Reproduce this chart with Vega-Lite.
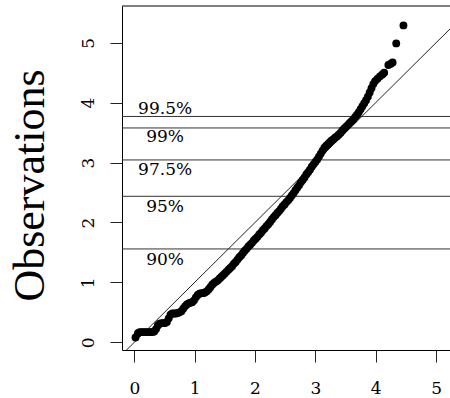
{
  "$schema": "https://vega.github.io/schema/vega-lite/v6.json",
  "autosize": {"type": "none"},
  "padding": {"left": 122, "top": 6, "right": 0, "bottom": 48},
  "width": 328,
  "height": 344,
  "background": "white",
  "config": {
    "view": {"stroke": null},
    "axis": {
      "grid": false,
      "domainColor": "black",
      "domainWidth": 1,
      "tickColor": "#222",
      "tickWidth": 1,
      "tickSize": 12,
      "labelFont": "DejaVu Serif",
      "labelFontSize": 17,
      "labelColor": "black"
    }
  },
  "datasets": {
    "pts": [
      {"q": 0.02, "obs": 0.08}, {"q": 0.06, "obs": 0.15}, {"q": 0.09, "obs": 0.17}, {"q": 0.12, "obs": 0.17},
      {"q": 0.15, "obs": 0.17}, {"q": 0.18, "obs": 0.17}, {"q": 0.21, "obs": 0.17}, {"q": 0.24, "obs": 0.17},
      {"q": 0.27, "obs": 0.17}, {"q": 0.30, "obs": 0.17}, {"q": 0.33, "obs": 0.18}, {"q": 0.36, "obs": 0.22},
      {"q": 0.39, "obs": 0.28}, {"q": 0.42, "obs": 0.31}, {"q": 0.45, "obs": 0.32}, {"q": 0.48, "obs": 0.32},
      {"q": 0.51, "obs": 0.32}, {"q": 0.54, "obs": 0.34}, {"q": 0.57, "obs": 0.40}, {"q": 0.60, "obs": 0.46},
      {"q": 0.63, "obs": 0.48}, {"q": 0.66, "obs": 0.48}, {"q": 0.69, "obs": 0.48}, {"q": 0.72, "obs": 0.49},
      {"q": 0.75, "obs": 0.50}, {"q": 0.78, "obs": 0.52}, {"q": 0.81, "obs": 0.56}, {"q": 0.84, "obs": 0.60},
      {"q": 0.87, "obs": 0.63}, {"q": 0.90, "obs": 0.65}, {"q": 0.93, "obs": 0.66}, {"q": 0.96, "obs": 0.67},
      {"q": 0.99, "obs": 0.70}, {"q": 1.02, "obs": 0.75}, {"q": 1.05, "obs": 0.79}, {"q": 1.08, "obs": 0.81},
      {"q": 1.11, "obs": 0.82}, {"q": 1.14, "obs": 0.82}, {"q": 1.17, "obs": 0.83}, {"q": 1.20, "obs": 0.85},
      {"q": 1.23, "obs": 0.88}, {"q": 1.26, "obs": 0.92}, {"q": 1.29, "obs": 0.96}, {"q": 1.32, "obs": 0.99},
      {"q": 1.35, "obs": 1.01}, {"q": 1.38, "obs": 1.03}, {"q": 1.41, "obs": 1.06}, {"q": 1.44, "obs": 1.09},
      {"q": 1.47, "obs": 1.12}, {"q": 1.50, "obs": 1.15}, {"q": 1.53, "obs": 1.18}, {"q": 1.56, "obs": 1.21},
      {"q": 1.59, "obs": 1.24}, {"q": 1.62, "obs": 1.27}, {"q": 1.65, "obs": 1.31}, {"q": 1.68, "obs": 1.34},
      {"q": 1.71, "obs": 1.38}, {"q": 1.74, "obs": 1.42}, {"q": 1.77, "obs": 1.45}, {"q": 1.80, "obs": 1.49},
      {"q": 1.83, "obs": 1.53}, {"q": 1.86, "obs": 1.56}, {"q": 1.89, "obs": 1.60}, {"q": 1.92, "obs": 1.63},
      {"q": 1.95, "obs": 1.66}, {"q": 1.98, "obs": 1.70}, {"q": 2.01, "obs": 1.73}, {"q": 2.04, "obs": 1.76},
      {"q": 2.07, "obs": 1.80}, {"q": 2.10, "obs": 1.83}, {"q": 2.13, "obs": 1.87}, {"q": 2.16, "obs": 1.90},
      {"q": 2.19, "obs": 1.94}, {"q": 2.22, "obs": 1.97}, {"q": 2.25, "obs": 2.01}, {"q": 2.28, "obs": 2.05},
      {"q": 2.31, "obs": 2.09}, {"q": 2.34, "obs": 2.12}, {"q": 2.37, "obs": 2.16}, {"q": 2.40, "obs": 2.19},
      {"q": 2.43, "obs": 2.23}, {"q": 2.46, "obs": 2.27}, {"q": 2.49, "obs": 2.30}, {"q": 2.52, "obs": 2.34},
      {"q": 2.55, "obs": 2.37}, {"q": 2.58, "obs": 2.41}, {"q": 2.61, "obs": 2.45}, {"q": 2.64, "obs": 2.49},
      {"q": 2.67, "obs": 2.54}, {"q": 2.70, "obs": 2.58}, {"q": 2.73, "obs": 2.62}, {"q": 2.76, "obs": 2.67},
      {"q": 2.79, "obs": 2.71}, {"q": 2.82, "obs": 2.75}, {"q": 2.85, "obs": 2.80}, {"q": 2.88, "obs": 2.84},
      {"q": 2.91, "obs": 2.88}, {"q": 2.94, "obs": 2.93}, {"q": 2.97, "obs": 2.97}, {"q": 3.00, "obs": 3.01},
      {"q": 3.03, "obs": 3.05}, {"q": 3.06, "obs": 3.10}, {"q": 3.09, "obs": 3.15}, {"q": 3.12, "obs": 3.20},
      {"q": 3.15, "obs": 3.25}, {"q": 3.18, "obs": 3.28}, {"q": 3.21, "obs": 3.31}, {"q": 3.24, "obs": 3.34},
      {"q": 3.27, "obs": 3.37}, {"q": 3.30, "obs": 3.39}, {"q": 3.33, "obs": 3.42}, {"q": 3.36, "obs": 3.44},
      {"q": 3.39, "obs": 3.47}, {"q": 3.42, "obs": 3.50}, {"q": 3.45, "obs": 3.54}, {"q": 3.48, "obs": 3.57},
      {"q": 3.51, "obs": 3.60}, {"q": 3.54, "obs": 3.63}, {"q": 3.57, "obs": 3.66}, {"q": 3.60, "obs": 3.69},
      {"q": 3.63, "obs": 3.72}, {"q": 3.66, "obs": 3.76}, {"q": 3.69, "obs": 3.80}, {"q": 3.72, "obs": 3.84},
      {"q": 3.75, "obs": 3.89}, {"q": 3.78, "obs": 3.94}, {"q": 3.81, "obs": 3.99}, {"q": 3.84, "obs": 4.04},
      {"q": 3.87, "obs": 4.10}, {"q": 3.90, "obs": 4.17}, {"q": 3.93, "obs": 4.24}, {"q": 3.96, "obs": 4.31},
      {"q": 3.99, "obs": 4.36}, {"q": 4.03, "obs": 4.40}, {"q": 4.07, "obs": 4.44}, {"q": 4.11, "obs": 4.47},
      {"q": 4.14, "obs": 4.50}, {"q": 4.21, "obs": 4.63}, {"q": 4.25, "obs": 4.65}, {"q": 4.28, "obs": 4.67},
      {"q": 4.34, "obs": 4.99}, {"q": 4.46, "obs": 5.29}
    ],
    "hlines": [
      {"level": "90%", "obs": 1.558},
      {"level": "95%", "obs": 2.437},
      {"level": "97.5%", "obs": 3.044},
      {"level": "99%", "obs": 3.578},
      {"level": "99.5%", "obs": 3.770}
    ],
    "pcttext": [
      {"level": "90%", "q": 0.51, "obs": 1.374},
      {"level": "95%", "q": 0.51, "obs": 2.259},
      {"level": "97.5%", "q": 0.51, "obs": 2.873},
      {"level": "99%", "q": 0.51, "obs": 3.422},
      {"level": "99.5%", "q": 0.51, "obs": 3.895}
    ],
    "diag": [{"q": -1, "obs": -1}, {"q": 6, "obs": 6}]
  },
  "encoding": {
    "x": {"field": "q", "type": "quantitative",
          "scale": {"domain": [-0.204, 5.231], "nice": false, "zero": false},
          "axis": {"orient": "bottom", "values": [0, 1, 2, 3, 4, 5], "format": "d", "title": null, "labelPadding": 18, "labelBaseline": "top", "labelFlush": false}},
    "y": {"field": "obs", "type": "quantitative",
          "scale": {"domain": [-0.129, 5.614], "nice": false, "zero": false},
          "axis": {"orient": "left", "values": [0, 1, 2, 3, 4, 5], "format": "d", "labelAngle": 270, "labelAlign": "center", "labelBaseline": "alphabetic",
                   "labelPadding": 16.7, "labelFlush": false,
                   "title": "Observations", "titleFont": "Liberation Serif", "titleFontSize": 44, "titleFontWeight": "normal",
                   "titleColor": "black", "titleAngle": 270, "titleAlign": "center", "titleBaseline": "alphabetic",
                   "titleX": -79, "titleY": 179}}
  },
  "layer": [
    {
      "data": {"name": "hlines"},
      "mark": {"type": "rule", "color": "#333", "strokeWidth": 1},
      "encoding": {
        "x": null
      }
    },
    {
      "data": {"values": [{"top": 5.614}]},
      "mark": {"type": "rule", "color": "black", "strokeWidth": 1},
      "encoding": {
        "x": null,
        "y": {"field": "top", "type": "quantitative"}
      }
    },
    {
      "data": {"name": "diag"},
      "mark": {"type": "line", "color": "#222", "strokeWidth": 1, "clip": true},
      "encoding": {}
    },
    {
      "data": {"name": "pts"},
      "mark": {"type": "circle", "color": "black", "opacity": 1, "size": 62},
      "encoding": {}
    },
    {
      "data": {"name": "pcttext"},
      "mark": {"type": "text", "font": "DejaVu Serif", "fontSize": 17, "color": "black", "align": "center", "baseline": "middle"},
      "encoding": {
        "text": {"field": "level", "type": "nominal"}
      }
    }
  ]
}
